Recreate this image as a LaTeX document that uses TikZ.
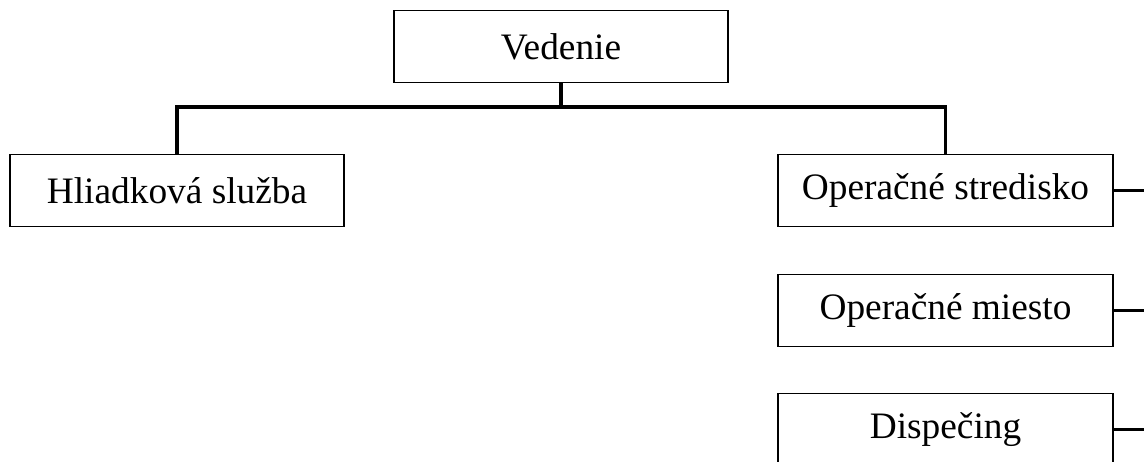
\documentclass[tikz,border=0pt]{standalone}
\usepackage{fontspec}
\setmainfont{Liberation Serif}
\usepackage{tikz}
\usetikzlibrary{positioning}
\tikzset{
  x=0.75pt, y=-0.75pt,
  unit/.style={draw, line width=1.4pt, minimum width=251pt, minimum height=54pt,
    inner sep=0pt, font=\fontsize{28}{33}\selectfont},
  link/.style={line width=2.6pt}
}

\begin{document}
\begin{tikzpicture}
    \clip (0,0) rectangle (1144,461);
    \node[unit] (ved) at (561,46.5) {Vedenie};
    \node[unit] (hs) at (177,190.5) {Hliadková služba};
    \node[unit] (os) at (945.5,190.5) {Operačné stredisko};
    \node[unit] (om) at (945.5,310.5) {Operačné miesto};
    \node[unit] (dis) at (945.5,429.5) {Dispečing};
    \coordinate (bus) at (561,107);
    \coordinate (e1) at (1150,190.5);
    \coordinate (e2) at (1150,310.5);
    \coordinate (e3) at (1150,429.5);
    \draw[link] (ved) -- (bus);
    \draw[link] (hs) |- (bus) -| (os);
    \draw[link] (os) -- (e1);
    \draw[link] (om) -- (e2);
    \draw[link] (dis) -- (e3);
  \end{tikzpicture}
\end{document}
